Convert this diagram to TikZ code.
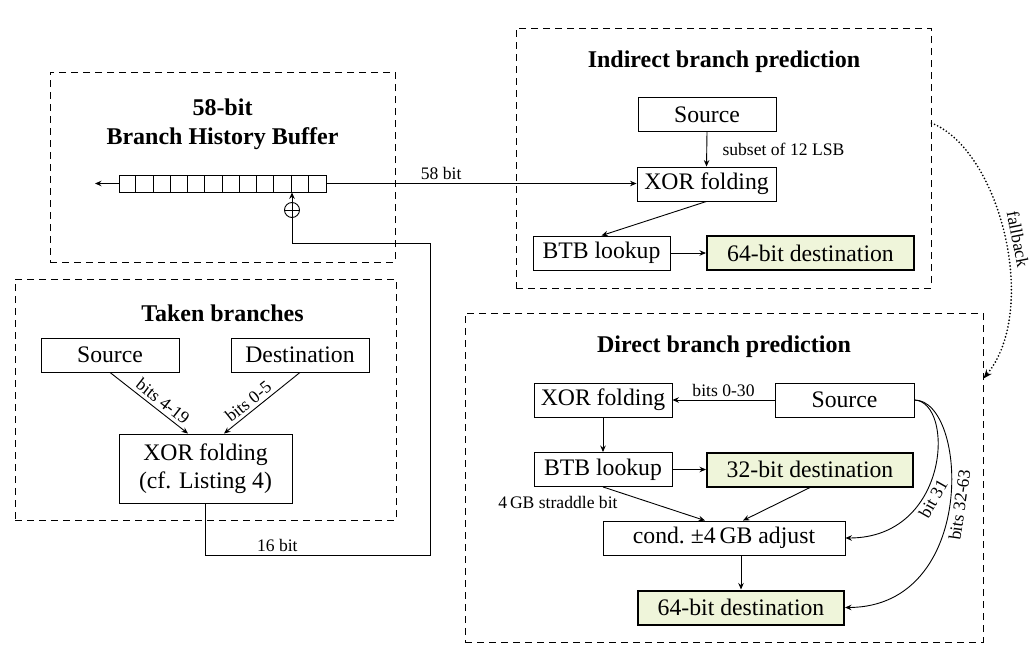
\documentclass[tikz,border=0pt]{standalone}
\usepackage{fontspec}
\setmainfont{Liberation Serif}
\usepackage{xcolor}
\usetikzlibrary{calc,arrows.meta}
\definecolor{destfill}{HTML}{EFF5DA}

\begin{document}
\begin{tikzpicture}[x=1pt, y=-1pt, line width=0.9pt,
  >={Stealth[length=6.5pt,width=5.5pt,inset=2.2pt]},
  every node/.style={font=\fontsize{23.7}{28.5}\selectfont},
  group/.style={draw, dash pattern=on 7pt off 5pt, inner sep=0pt},
  block/.style={draw, fill=white, minimum height=34pt, inner sep=2pt},
  target/.style={block, fill=destfill, line width=2pt},
  heading/.style={font=\fontsize{24}{29}\selectfont\bfseries},
  tag/.style={font=\fontsize{17.6}{21}\selectfont},
  flow/.style={->}]
  \useasboundingbox (0,0) rectangle (1031,664);

  % Gruppen
  \node[group, minimum width=345pt, minimum height=190pt] (bhb) at (222.5,167) {};
  \node[group, minimum width=381pt, minimum height=241pt] (taken) at (205.5,399.5) {};
  \node[group, minimum width=415pt, minimum height=260pt] (ind) at (723.5,158) {};
  \node[group, minimum width=518pt, minimum height=329pt] (dir) at (724,477.5) {};

  % Branch History Buffer
  \node[heading] (bhbtitle) at (222.5,107) {58-bit};
  \node[heading] (bhbname) at (222.5,139) {Branch History Buffer};
  \node[draw, minimum width=207pt, minimum height=17pt, inner sep=0pt] (reg) at (222.5,183.5) {};
  \foreach \i in {1,...,11}
    \draw (reg.south west) ++(\i*17.25,0) -- ++(0,-17);
  \node[draw, circle, minimum size=15pt, inner sep=0pt,
    path picture={\draw (path picture bounding box.north) -- (path picture bounding box.south)
      (path picture bounding box.west) -- (path picture bounding box.east);}] (mix) at (292,210) {};
  \coordinate (shiftout) at (95,183.5);
  \draw[flow] (reg.west) -- (shiftout);
  \draw[flow] (mix.north) -- (mix.north |- reg.south);

  % Taken branches
  \node[heading] (takentitle) at (222.5,313) {Taken branches};
  \node[block, minimum width=138pt] (tsrc) at (110,355) {Source};
  \node[block, minimum width=138pt] (tdst) at (300,355) {Destination};
  \node[block, minimum width=173pt, minimum height=69pt, align=center] (txor) at (205.5,468.5) {XOR folding\\(cf. Listing 4)};
  \draw[flow] (tsrc.south) -- node[tag, above, sloped, pos=0.6] {bits 4-19} ([xshift=-17.5pt]txor.north);
  \draw[flow] (tdst.south) -- node[tag, above, sloped, pos=0.6] {bits 0-5} ([xshift=18.5pt]txor.north);
  \coordinate (loopfoot) at (430,555);
  \coordinate (loopcorner) at (430,243);
  \draw (txor.south) |- node[tag, above, pos=0.66] {16 bit} (loopfoot) -- (loopcorner) -| (mix.south);

  % Indirect branch prediction
  \node[heading] (indtitle) at (724,62) {Indirect branch prediction};
  \node[block, minimum width=138pt] (isrc) at (707,114.5) {Source};
  \node[block, minimum width=139pt] (ixor) at (706.5,184) {XOR folding};
  \node[block, minimum width=137pt] (ibtb) at (601.5,253) {BTB lookup};
  \node[target, minimum width=207pt] (idst) at (810.5,253) {64-bit destination};
  \draw[flow] (isrc.south) -- node[tag, right=12pt] {subset of 12 LSB} (ixor.north);
  \draw[flow] (reg.east) -- node[tag, above, pos=0.37] {58 bit} (reg.east -| ixor.west);
  \draw[flow] (ixor.south) -- (ibtb.north);
  \draw[flow] (ibtb.east) -- (idst.west);

  % fallback
  \draw[flow, line width=1.9pt, line cap=round, dash pattern=on 0pt off 3.4pt, >={Stealth[length=9pt,width=7pt,inset=3pt]}]
    ($(ind.north east)!0.366!(ind.south east)$)
    .. controls (1000,150) and (1040,310) .. node[tag, above=2pt, sloped, pos=0.52] {fallback}
    ($(dir.north east)!0.2!(dir.south east)$);

  % Direct branch prediction
  \node[heading] (dirtitle) at (724,347) {Direct branch prediction};
  \node[block, minimum width=138pt] (dxor) at (603,400) {XOR folding};
  \node[block, minimum width=139pt] (dsrc) at (844.5,400) {Source};
  \node[block, minimum width=138pt] (dbtb) at (603,469.5) {BTB lookup};
  \node[target, minimum width=206pt] (d32) at (810,469.5) {32-bit destination};
  \node[block, minimum width=242pt] (cond) at (724,538) {cond.\ ±4\,GB adjust};
  \node[target, minimum width=206pt] (d64) at (741,607.5) {64-bit destination};
  \draw[flow] (dsrc.west) -- node[tag, above] {bits 0-30} (dxor.east);
  \draw[flow] (dxor.south) -- (dbtb.north);
  \draw[flow] (dbtb.east) -- (d32.west);
  \draw[flow] (dbtb.south) -- node[tag, below left, pos=0.18] {4\,GB straddle bit} ([xshift=-19pt]cond.north);
  \draw[flow] (d32.south) -- ([xshift=19pt]cond.north);
  \draw[flow] (cond.south -| d64.north) -- (d64.north);
  \draw[flow] (dsrc.east) .. controls (955,402) and (950,538) .. node[tag, below, sloped, pos=0.62] {bit 31} (cond.east);
  \draw[flow] (dsrc.east) .. controls (968,400) and (978,607) .. node[tag, below, sloped, pos=0.5] {bits 32-63} (d64.east);
\end{tikzpicture}
\end{document}
